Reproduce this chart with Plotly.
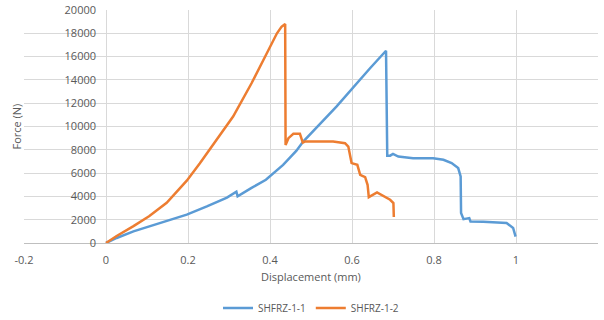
import plotly.graph_objects as go

# SHFRZ-1-1 (blue)
disp_1 = [0.0, 0.026, 0.067, 0.107, 0.148, 0.197, 0.246, 0.295, 0.318, 0.321, 0.354, 0.39, 0.432, 0.464,
          0.481, 0.562, 0.644, 0.683,
          0.686, 0.693, 0.700, 0.713, 0.749, 0.798, 0.823, 0.843, 0.859, 0.865, 0.866, 0.872, 0.886, 0.889,
          0.92, 0.977, 0.993, 0.998, 0.999]
force_1 = [0, 430, 1000, 1420, 1850, 2430, 3140, 3900, 4400, 4000, 4710, 5430, 6700, 7900,
           8710, 11710, 15000, 16500,
           7500, 7500, 7650, 7420, 7280, 7280, 7140, 6860, 6430, 5710, 2570, 2050, 2140, 1850,
           1830, 1720, 1290, 700, 550]

# SHFRZ-1-2 (orange)
disp_2 = [0.0, 0.026, 0.067, 0.105, 0.148, 0.172, 0.197, 0.229, 0.262, 0.31, 0.355, 0.392, 0.405,
          0.417, 0.428, 0.437, 0.438, 0.445, 0.457, 0.473,
          0.48, 0.485, 0.554, 0.583, 0.591, 0.599, 0.613, 0.620, 0.632, 0.638, 0.641, 0.661, 0.693, 0.701, 0.702]
force_2 = [0, 600, 1450, 2300, 3450, 4350, 5350, 6850, 8450, 10850, 13710, 16280, 17150,
           18000, 18550, 18800, 8420, 9000, 9370, 9370,
           8620, 8710, 8710, 8570, 8280, 6860, 6710, 5850, 5660, 5000, 3940, 4340, 3710, 3430, 2230]

x_ticks = [-0.2, 0, 0.2, 0.4, 0.6, 0.8, 1, 1.2]
x_tick_labels = ["-0.2", "0", "0.2", "0.4", "0.6", "0.8", "1", "1.2"]
y_ticks = [0, 2000, 4000, 6000, 8000, 10000, 12000, 14000, 16000, 18000, 20000]

FONT = "Open Sans, Liberation Sans, sans-serif"
fig = go.Figure()
fig.add_trace(go.Scatter(x=disp_1, y=force_1, mode="lines", name="SHFRZ-1-1",
                         line=dict(color="#5B9BD5", width=2.5)))
fig.add_trace(go.Scatter(x=disp_2, y=force_2, mode="lines", name="SHFRZ-1-2",
                         line=dict(color="#ED7D31", width=2.5)))

plot_h = 320 - 10 - 77
plot_w = 604 - 24 - 6

fig.update_layout(
    width=604, height=320,
    margin=dict(l=24, r=6, t=10, b=77, autoexpand=False),
    paper_bgcolor="white", plot_bgcolor="white",
    font=dict(family=FONT, size=10, color="#595959"),
    showlegend=True,
    legend=dict(orientation="h", x=0.5, xanchor="center", y=(243 - 308) / plot_h, yanchor="middle",
                font=dict(size=10, color="#595959"), tracegroupgap=0),
    xaxis=dict(range=[-0.2, 1.2], tickvals=x_ticks, ticktext=x_tick_labels,
               showgrid=True, gridcolor="#D9D9D9", gridwidth=1, zeroline=False,
               showline=True, linecolor="#BFBFBF", linewidth=1, automargin=False,
               tickfont=dict(size=11, color="#595959"), ticks="", ticklabelstandoff=7),
    yaxis=dict(range=[0, 20000], tickvals=y_ticks, tickformat="d", anchor="free", position=82 / plot_w,
               showgrid=True, gridcolor="#D9D9D9", gridwidth=1, zeroline=False, automargin=False,
               showline=False, tickfont=dict(size=11, color="#595959"), ticks="",
               ticklabelstandoff=10),
    annotations=[
        dict(text="Displacement (mm)", x=0.5, xref="paper", y=(243 - 276) / plot_h, yref="paper",
             showarrow=False, font=dict(size=11, color="#595959"), yanchor="middle"),
        dict(text="Force (N)", x=(16 - 24) / plot_w, xref="paper", y=0.5, yref="paper", showarrow=False,
             textangle=-90, font=dict(size=11, color="#595959"), xanchor="center"),
    ],
)

fig.write_html("out.html")
